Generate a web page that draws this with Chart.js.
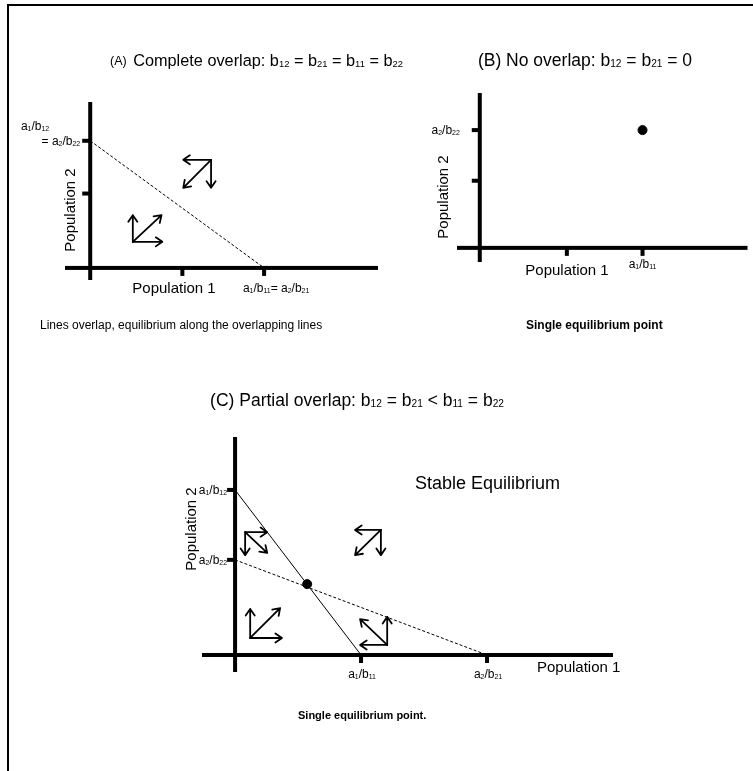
<!DOCTYPE html>
<html>
<head>
<meta charset="utf-8">
<script src="https://cdn.jsdelivr.net/npm/chart.js@4.4.1/dist/chart.umd.min.js"></script>
<style>
    html, body { margin: 0; padding: 0; background: #fff; overflow: hidden; }
    body { width: 753px; height: 771px; position: relative; }
    #frame { position: absolute; left: 7px; top: 4px; width: 760px; height: 800px; border-top: 2px solid #000; border-left: 2px solid #000; }
    canvas { position: absolute; left: 0; top: 0; }
</style>
</head>
<body>
<div id="frame"></div>
<canvas id="chartA" width="753" height="771"></canvas>
<canvas id="chartB" width="753" height="771"></canvas>
<canvas id="chartC" width="753" height="771"></canvas>
<script>
// Panel A - complete overlap
let aXRange = [-0.29, 3.31];
let aYRange = [-0.19, 2.61];
let aXTicks = [1.06, 2];
let aXTickLabels = ["", "a1/b11= a2/b21"];
let aYTicks = [1.17, 2];
let aYTickLabels = ["", "a1/b12|= a2/b22"];
let aDashed = [{x: 0, y: 2}, {x: 2, y: 0}];
let aArrows = [
    [1.39, 1.70, 1.07, 1.70],
    [1.39, 1.70, 1.39, 1.26],
    [1.39, 1.70, 1.07, 1.26],
    [0.49, 0.41, 0.49, 0.83],
    [0.49, 0.41, 0.83, 0.41],
    [0.49, 0.41, 0.82, 0.83]
];

// Panel B - no overlap
let bXRange = [-0.28, 3.29];
let bYRange = [-0.24, 2.63];
let bXTicks = [1.07, 2];
let bXTickLabels = ["", "a1/b11"];
let bYTicks = [1.14, 2];
let bYTickLabels = ["", "a2/b22"];
let bPoint = [{x: 2, y: 2}];

// Panel C - partial overlap
let cXRange = [-1.05, 12.0];
let cYRange = [-0.54, 6.92];
let cXTicks = [4, 8];
let cXTickLabels = ["a1/b11", "a2/b21"];
let cYTicks = [5.24, 3.02];
let cYTickLabels = ["a1/b12", "a2/b22"];
let cSolid = [{x: 0, y: 5.24}, {x: 4, y: 0}];
let cDashed = [{x: 0, y: 3.02}, {x: 8, y: 0}];
let cPoint = [{x: 2.29, y: 2.25}];
let cArrows = [
    [0.32, 3.90, 1.02, 3.90],
    [0.32, 3.90, 0.32, 3.17],
    [0.32, 3.90, 1.02, 3.24],
    [4.63, 3.97, 3.81, 3.97],
    [4.63, 3.97, 4.63, 3.17],
    [4.63, 3.97, 3.81, 3.17],
    [0.48, 0.54, 0.48, 1.46],
    [0.48, 0.54, 1.49, 0.54],
    [0.48, 0.54, 1.43, 1.49],
    [4.83, 0.32, 3.97, 0.32],
    [4.83, 0.32, 4.83, 1.21],
    [4.83, 0.32, 3.97, 1.14]
];

const FONT = "'Liberation Sans', Arial, sans-serif";
const SUB = 0.58;
const TICK = 6;

function richSegments(text) {
    let segs = [];
    let prevLetter = false, inSub = false;
    for (const ch of text) {
        let isDigit = /\d/.test(ch);
        let sub = isDigit && (prevLetter || inSub);
        let last = segs[segs.length - 1];
        if (last && last.sub === sub) last.t += ch; else segs.push({t: ch, sub: sub});
        inSub = sub;
        prevLetter = /[A-Za-z]/.test(ch);
    }
    return segs;
}

function drawRich(ctx, text, x, y, size, align, bold) {
    let segs = richSegments(text);
    let font = s => (bold ? "bold " : "") + s + "px " + FONT;
    let w = 0;
    segs.forEach(s => {
        ctx.font = font(s.sub ? size * SUB : size);
        s.w = ctx.measureText(s.t).width;
        w += s.w;
    });
    let cx = align === "center" ? x - w / 2 : align === "right" ? x - w : x;
    let base = y + size * 0.36;
    ctx.textAlign = "left";
    ctx.textBaseline = "alphabetic";
    segs.forEach(s => {
        ctx.font = font(s.sub ? size * SUB : size);
        ctx.fillText(s.t, cx, base + (s.sub ? size * 0.06 : 0));
        cx += s.w;
    });
}

function drawArrow(ctx, x0, y0, x1, y1) {
    let ang = Math.atan2(y1 - y0, x1 - x0);
    let head = 8, spread = 0.6;
    ctx.beginPath();
    ctx.moveTo(x0, y0);
    ctx.lineTo(x1, y1);
    ctx.moveTo(x1 - head * Math.cos(ang - spread), y1 - head * Math.sin(ang - spread));
    ctx.lineTo(x1, y1);
    ctx.lineTo(x1 - head * Math.cos(ang + spread), y1 - head * Math.sin(ang + spread));
    ctx.stroke();
}

function makePlugin(panel) {
    return {
        id: "figure",
        beforeDatasetsDraw(chart) {
            let ctx = chart.ctx;
            let xs = chart.scales.x, ys = chart.scales.y;
            let ox = xs.getPixelForValue(0), oy = ys.getPixelForValue(0);
            ctx.save();
            ctx.fillStyle = "#000";
            let x0 = xs.getPixelForValue(panel.xRange[0]), x1 = xs.getPixelForValue(panel.xRange[1]);
            ctx.fillRect(x0, oy - 2, x1 - x0, 4);
            let yTop = ys.getPixelForValue(panel.yRange[1]), yBot = ys.getPixelForValue(panel.yRange[0]);
            ctx.fillRect(ox - 2, yTop, 4, yBot - yTop);
            panel.xTicks.forEach(v => {
                let px = xs.getPixelForValue(v);
                ctx.fillRect(px - 2, oy, 4, 2 + TICK);
            });
            panel.yTicks.forEach(v => {
                let py = ys.getPixelForValue(v);
                ctx.fillRect(ox - 2 - TICK, py - 2, TICK + 2, 4);
            });
            ctx.restore();
        },
        afterDatasetsDraw(chart) {
            let ctx = chart.ctx;
            let xs = chart.scales.x, ys = chart.scales.y;
            let ox = xs.getPixelForValue(0), oy = ys.getPixelForValue(0);
            ctx.save();
            ctx.fillStyle = "#000";
            ctx.strokeStyle = "#000";
            ctx.lineWidth = 1.8;
            ctx.lineCap = "round";
            ctx.lineJoin = "round";
            (panel.arrows || []).forEach(a => {
                drawArrow(ctx, xs.getPixelForValue(a[0]), ys.getPixelForValue(a[1]),
                    xs.getPixelForValue(a[2]), ys.getPixelForValue(a[3]));
            });

            // tick labels
            panel.xTicks.forEach((v, i) => {
                let label = panel.xTickLabels[i];
                if (!label) return;
                drawRich(ctx, label, xs.getPixelForValue(v) + panel.xLabelOffset[0], oy + panel.xLabelOffset[1], 12, "center");
            });
            panel.yTicks.forEach((v, i) => {
                let label = panel.yTickLabels[i];
                if (!label) return;
                let lines = label.split("|");
                let py = ys.getPixelForValue(v);
                lines.forEach((line, j) => {
                    let dx = panel.yLabelDx[j];
                    drawRich(ctx, line, ox + dx, py - (lines.length - 1 - j) * 15, 12, "right");
                });
            });

            // free texts
            panel.texts.forEach(t => {
                if (t.rotate) {
                    ctx.save();
                    ctx.translate(t.x, t.y);
                    ctx.rotate(-Math.PI / 2);
                    drawRich(ctx, t.text, 0, 0, t.size, "center", t.bold);
                    ctx.restore();
                } else {
                    drawRich(ctx, t.text, t.x, t.y, t.size, t.align || "center", t.bold);
                }
            });
            ctx.restore();
        }
    };
}

function makeChart(id, panel, datasets) {
    new Chart(document.getElementById(id).getContext("2d"), {
        type: "scatter",
        data: {datasets: datasets},
        options: {
            responsive: false,
            animation: false,
            events: [],
            layout: {
                padding: {
                    left: panel.box.l,
                    right: 753 - panel.box.r,
                    top: panel.box.t,
                    bottom: 771 - panel.box.b
                }
            },
            plugins: {
                legend: {display: false},
                tooltip: {enabled: false}
            },
            scales: {
                x: {type: "linear", display: false, min: panel.xRange[0], max: panel.xRange[1]},
                y: {type: "linear", display: false, min: panel.yRange[0], max: panel.yRange[1]}
            }
        },
        plugins: [makePlugin(panel)]
    });
}

function lineSet(data, dashed) {
    return {
        data: data,
        showLine: true,
        borderColor: "#000",
        borderWidth: 1,
        borderDash: dashed ? [3, 2] : [],
        pointRadius: 0,
        fill: false,
        clip: false
    };
}

function pointSet(data) {
    return {
        data: data,
        showLine: false,
        pointRadius: 4.5,
        pointBackgroundColor: "#000",
        pointBorderColor: "#000",
        clip: false
    };
}

makeChart("chartA", {
    box: {l: 65, r: 378, t: 102, b: 280},
    xRange: aXRange, yRange: aYRange,
    xTicks: aXTicks, xTickLabels: aXTickLabels,
    yTicks: aYTicks, yTickLabels: aYTickLabels,
    xLabelOffset: [12, 20],
    yLabelDx: [-41, -10],
    arrows: aArrows,
    texts: [
        {text: "(A)", x: 110, y: 60, size: 12.5, align: "left"},
        {text: "Complete overlap: b12 = b21 = b11 = b22", x: 403, y: 60, size: 16.3, align: "right"},
        {text: "Population 1", x: 174, y: 288, size: 15},
        {text: "Population 2", x: 70, y: 210, size: 15, rotate: true},
        {text: "Lines overlap, equilibrium along the overlapping lines", x: 40, y: 325, size: 12, align: "left"}
    ]
}, [lineSet(aDashed, true)]);

makeChart("chartB", {
    box: {l: 457, r: 750, t: 93, b: 262},
    xRange: bXRange, yRange: bYRange,
    xTicks: bXTicks, xTickLabels: bXTickLabels,
    yTicks: bYTicks, yTickLabels: bYTickLabels,
    xLabelOffset: [0, 16],
    yLabelDx: [-20],
    texts: [
        {text: "(B) No overlap: b12 = b21 = 0", x: 585, y: 60, size: 17.5},
        {text: "Population 1", x: 567, y: 270, size: 15},
        {text: "Population 2", x: 443, y: 197, size: 15, rotate: true},
        {text: "Single equilibrium point", x: 526, y: 325, size: 12, align: "left", bold: true}
    ]
}, [pointSet(bPoint)]);

makeChart("chartC", {
    box: {l: 202, r: 613, t: 437, b: 672},
    xRange: cXRange, yRange: cYRange,
    xTicks: cXTicks, xTickLabels: cXTickLabels,
    yTicks: cYTicks, yTickLabels: cYTickLabels,
    xLabelOffset: [1, 19],
    yLabelDx: [-8],
    arrows: cArrows,
    texts: [
        {text: "(C) Partial overlap: b12 = b21 < b11 = b22", x: 357, y: 400, size: 17.5},
        {text: "Stable Equilibrium", x: 415, y: 483, size: 18, align: "left"},
        {text: "Population 1", x: 537, y: 667, size: 15, align: "left"},
        {text: "Population 2", x: 191, y: 529, size: 15, rotate: true},
        {text: "Single equilibrium point.", x: 298, y: 715, size: 11, align: "left", bold: true}
    ]
}, [lineSet(cSolid, false), lineSet(cDashed, true), pointSet(cPoint)]);
</script>
</body>
</html>
